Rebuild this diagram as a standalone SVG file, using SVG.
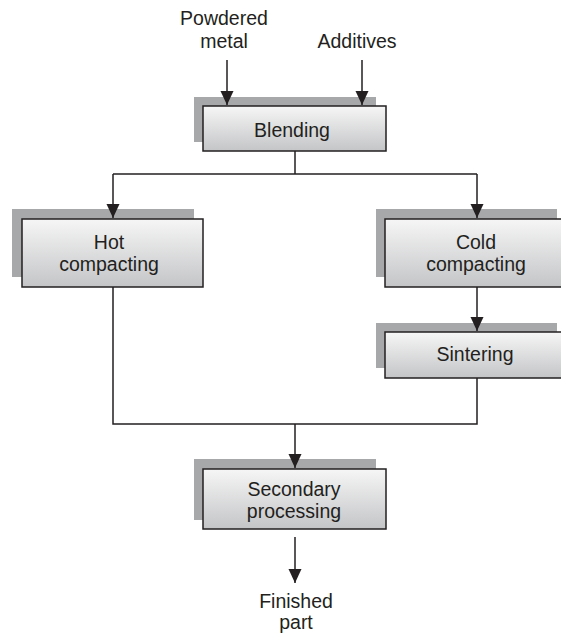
<svg xmlns="http://www.w3.org/2000/svg" width="561" height="633" viewBox="0 0 561 633">
<style>
.sh{fill:#a7a8aa}
.bx{fill:url(#g);stroke:#231f20;stroke-width:1.5}
.t{font-family:"Liberation Sans",Arial,sans-serif;font-size:19.5px;fill:#231f20;text-anchor:middle}
.ln{fill:none;stroke:#231f20;stroke-width:1.5}
</style>
<defs>
<linearGradient id="g" x1="0" y1="0" x2="0" y2="1">
<stop offset="0" stop-color="#f6f6f6"/>
<stop offset="1" stop-color="#c4c5c7"/>
</linearGradient>
<marker id="a" markerWidth="15" markerHeight="14" refX="14" refY="6.5" orient="auto" markerUnits="userSpaceOnUse">
<path d="M0,0 L14,6.5 L0,13 Z" fill="#231f20"/>
</marker>
</defs>
<g id="powdered-metal">
<text class="t" x="224" y="25">Powdered</text>
<text class="t" x="224" y="48">metal</text>
</g>
<g id="additives">
<text class="t" x="357" y="48">Additives</text>
</g>
<g id="blending">
<rect class="sh" x="194" y="97" width="182" height="45"/>
<rect class="bx" x="203" y="106" width="183" height="45"/>
<text class="t" x="292" y="137">Blending</text>
</g>
<g id="hot-compacting">
<rect class="sh" x="12" y="209" width="182" height="68"/>
<rect class="bx" x="22" y="219" width="181" height="68"/>
<text class="t" x="109" y="249">Hot</text>
<text class="t" x="109" y="271">compacting</text>
</g>
<g id="cold-compacting">
<rect class="sh" x="376" y="209" width="181" height="68"/>
<rect class="bx" x="385" y="219" width="182" height="68"/>
<text class="t" x="476" y="249">Cold</text>
<text class="t" x="476" y="271">compacting</text>
</g>
<g id="sintering">
<rect class="sh" x="376" y="323" width="181" height="45"/>
<rect class="bx" x="385" y="332" width="182" height="46"/>
<text class="t" x="475" y="361">Sintering</text>
</g>
<g id="secondary-processing">
<rect class="sh" x="194" y="459" width="182" height="61"/>
<rect class="bx" x="203" y="469" width="183" height="60"/>
<text class="t" x="294" y="496">Secondary</text>
<text class="t" x="294" y="518">processing</text>
</g>
<g id="finished-part">
<text class="t" x="296" y="608">Finished</text>
<text class="t" x="296" y="629">part</text>
</g>
<g id="connectors">
<line class="ln" x1="227" y1="60" x2="227" y2="105" marker-end="url(#a)"/>
<line class="ln" x1="362" y1="60" x2="362" y2="105" marker-end="url(#a)"/>
<polyline class="ln" points="295,151 295,174"/>
<polyline class="ln" points="113,174 477,174"/>
<line class="ln" x1="113" y1="174" x2="113" y2="218" marker-end="url(#a)"/>
<line class="ln" x1="477" y1="174" x2="477" y2="218" marker-end="url(#a)"/>
<line class="ln" x1="477" y1="287" x2="477" y2="331" marker-end="url(#a)"/>
<polyline class="ln" points="113,287 113,424 477,424 477,378"/>
<line class="ln" x1="295" y1="424" x2="295" y2="468" marker-end="url(#a)"/>
<line class="ln" x1="295" y1="537" x2="295" y2="583" marker-end="url(#a)"/>
</g>
</svg>
